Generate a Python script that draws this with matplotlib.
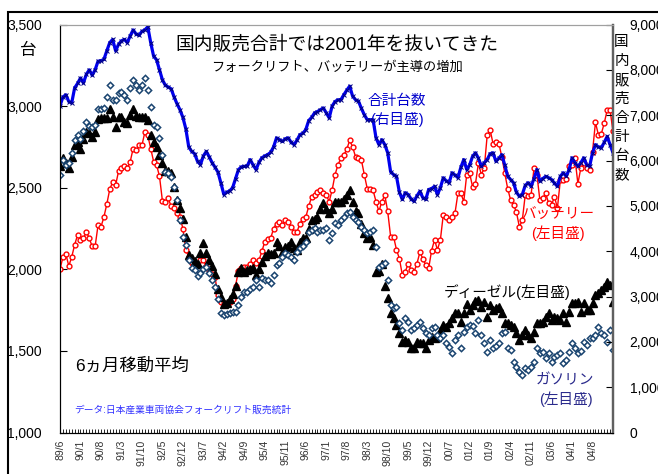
import matplotlib
matplotlib.use('Agg')
import matplotlib.pyplot as plt
from matplotlib.ticker import FuncFormatter
from matplotlib.patches import Rectangle

plt.rcParams['font.family'] = ['Liberation Sans', 'Noto Sans CJK JP']

# monthly data, 89/6 .. 05/3 (6-month moving average)
total = [7210, 7400, 7450, 7300, 7270, 7600, 7700, 7820, 7710, 7900,
         8000, 7880, 8000, 8190, 8200, 8230, 8420, 8600, 8670, 8420,
         8560, 8640, 8670, 8600, 8750, 8880, 8790, 8760, 8850, 8880,
         8950, 8600, 8300, 8220, 8000, 7780, 7660, 7620, 7580, 7400,
         7250, 7120, 6950, 6700, 6300, 6200, 6150, 5980, 5910, 6100,
         6200, 6080, 5950, 5850, 5740, 5500, 5250, 5300, 5330, 5400,
         5600, 5800, 5860, 5870, 5880, 6020, 5900, 5800, 5960, 6060,
         6100, 6130, 6180, 6300, 6500, 6460, 6420, 6480, 6500, 6400,
         6350, 6450, 6570, 6600, 6680, 6880, 6950, 7050, 7080, 7120,
         7160, 7050, 6940, 7200, 7300, 7340, 7340, 7450, 7550, 7640,
         7420, 7340, 7310, 7150, 7010, 6900, 6900, 6900, 6500, 6350,
         6460, 6350, 6170, 5750, 5690, 5650, 5300, 5140, 5290, 5250,
         5150, 5100, 5220, 5320, 5180, 5140, 5360, 5380, 5430, 5250,
         5400, 5620, 5550, 5510, 5730, 5680, 5620, 5850, 6020, 5800,
         5900, 6090, 6170, 6050, 5870, 5950, 6020, 6150, 6170, 5980,
         6050, 6130, 5900, 5650, 5580, 5510, 5300, 5210, 5250, 5450,
         5510, 5430, 5600, 5800, 5540, 5600, 5650, 5620, 5580, 5500,
         5430, 5650, 5730, 5650, 5800, 6060, 5950, 5870, 5950, 6060,
         5900, 5870, 6170, 6350, 6300, 6280, 6400, 6530, 6350, 6170]

battery = [2000, 2075, 2095, 2020, 2075, 2150, 2210, 2180, 2190, 2230,
           2190, 2140, 2140, 2270, 2260, 2320, 2400, 2490, 2535, 2515,
           2600, 2620, 2630, 2620, 2660, 2740, 2730, 2760, 2760, 2840,
           2820, 2740, 2660, 2640, 2570, 2420, 2415, 2435, 2385, 2375,
           2345, 2320, 2250, 2120, 2075, 2040, 2020, 1995, 2060, 2055,
           2020, 1995, 1970, 1950, 1840, 1800, 1795, 1790, 1800, 1815,
           1900, 1990, 2005, 2015, 2015, 2030, 2055, 2040, 2055, 2110,
           2170, 2185, 2190, 2250, 2280, 2290, 2270, 2300, 2290, 2260,
           2230, 2230, 2280, 2310, 2320, 2385, 2445, 2455, 2475, 2485,
           2470, 2455, 2415, 2485, 2580, 2640, 2680, 2700, 2735, 2790,
           2750, 2690, 2680, 2670, 2580, 2495, 2495, 2485, 2415, 2355,
           2415, 2455, 2355, 2200, 2200, 2120, 2065, 1965, 1985, 2035,
           1995, 1985, 2035, 2105, 2065, 2025, 2005, 2115, 2180, 2120,
           2180, 2335, 2320, 2300, 2320, 2345, 2465, 2465, 2415, 2580,
           2590, 2505, 2525, 2650, 2580, 2620, 2820, 2855, 2770, 2780,
           2770, 2690, 2590, 2495, 2425, 2395, 2350, 2260, 2300, 2455,
           2450, 2455, 2620, 2580, 2425, 2435, 2465, 2405, 2395, 2445,
           2375, 2545, 2545, 2555, 2630, 2640, 2680, 2525, 2620, 2650,
           2620, 2610, 2720, 2900, 2825, 2830, 2895, 2975, 2975, 2845]

diesel = [2630, 2680, 2650, 2620, 2690, 2760, 2780, 2740, 2800, 2840,
          2835, 2810, 2840, 2920, 2925, 2925, 2930, 2985, 2935, 2875,
          2935, 2935, 2900, 2895, 2945, 2985, 2940, 2935, 2935, 2935,
          2915, 2825, 2780, 2750, 2700, 2650, 2600, 2600, 2590, 2505,
          2425, 2375, 2310, 2200, 2090, 2070, 2050, 2030, 2100, 2160,
          2100, 2060, 2020, 1970, 1880, 1830, 1790, 1795, 1820, 1850,
          1900, 1985, 2005, 1985, 1995, 2000, 2005, 1965, 2000, 2045,
          2080, 2100, 2095, 2100, 2170, 2140, 2100, 2135, 2140, 2165,
          2130, 2120, 2165, 2190, 2190, 2250, 2300, 2310, 2320, 2370,
          2405, 2370, 2345, 2370, 2410, 2414, 2414, 2430, 2455, 2485,
          2414, 2355, 2345, 2280, 2220, 2190, 2200, 2150, 1985, 1990,
          2035, 1900, 1825, 1730, 1700, 1660, 1610, 1556, 1567, 1556,
          1516, 1520, 1556, 1547, 1547, 1516, 1567, 1587, 1577, 1585,
          1620, 1659, 1648, 1669, 1700, 1730, 1730, 1680, 1730, 1790,
          1751, 1780, 1805, 1812, 1771, 1801, 1710, 1781, 1751, 1765,
          1771, 1730, 1670, 1669, 1660, 1648, 1608, 1567, 1597, 1628,
          1600, 1577, 1618, 1669, 1669, 1679, 1705, 1730, 1689, 1710,
          1700, 1689, 1730, 1679, 1740, 1792, 1792, 1800, 1740, 1792,
          1751, 1751, 1792, 1843, 1853, 1873, 1893, 1924, 1904, 1801]

gasoline = [2580, 2670, 2640, 2650, 2710, 2790, 2820, 2800, 2850, 2900,
            2880, 2875, 2885, 2985, 2980, 2990, 3055, 3130, 3040, 3040,
            3078, 3088, 3068, 3040, 3110, 3160, 3130, 3098, 3130, 3170,
            3100, 2996, 2884, 2874, 2802, 2700, 2598, 2588, 2567, 2506,
            2424, 2300, 2200, 2150, 2057, 2006, 1996, 1960, 1975, 2000,
            2016, 1975, 1934, 1893, 1820, 1730, 1720, 1725, 1730, 1740,
            1740, 1781, 1832, 1863, 1863, 1880, 1893, 1934, 1893, 1944,
            1935, 1934, 1914, 1965, 2026, 2037, 2077, 2098, 2090, 2077,
            2057, 2108, 2128, 2140, 2169, 2230, 2241, 2251, 2230, 2241,
            2240, 2251, 2180, 2220, 2282, 2271, 2300, 2322, 2343, 2353,
            2322, 2302, 2292, 2260, 2241, 2220, 2230, 2241, 2138, 2016,
            2026, 2037, 1934, 1781, 1761, 1771, 1669, 1628, 1700, 1679,
            1628, 1640, 1659, 1679, 1638, 1608, 1597, 1638, 1648, 1600,
            1577, 1597, 1547, 1526, 1485, 1567, 1597, 1516, 1618, 1648,
            1659, 1650, 1608, 1689, 1597, 1547, 1495, 1567, 1516, 1530,
            1547, 1608, 1618, 1516, 1505, 1434, 1400, 1373, 1352, 1393,
            1383, 1400, 1434, 1516, 1485, 1495, 1454, 1485, 1434, 1460,
            1475, 1485, 1424, 1444, 1495, 1547, 1516, 1485, 1500, 1556,
            1536, 1577, 1577, 1600, 1648, 1608, 1597, 1556, 1628, 1505]

month_labels = ['89/6', '90/1', '90/8', '91/3', '91/10', '92/5', '92/12',
                '93/7', '94/2', '94/9', '95/4', '95/11', '96/6', '97/1',
                '97/8', '98/3', '98/10', '99/5', '99/12', '00/7', '01/2',
                '01/9', '02/4', '02/11', '03/6', '04/1', '04/8']

x = list(range(len(total)))

fig = plt.figure(figsize=(6.58, 4.74), dpi=100)
ax = fig.add_axes([60/658, 1 - 432.5/474, 553/658, 408/474])
ax2 = ax.twinx()

# left-axis series
ax.plot(x, battery, '-o', color='#FF0000', lw=1.0, ms=3.5,
        mfc='white', mec='#FF0000', mew=1.0, zorder=3)
ax.plot(x, diesel, '^', color='black', ms=5.2, mec='black', ls='none', zorder=4)
ax.plot(x, gasoline, 'D', ms=3.2, mfc='white', mec='#1A4470', mew=1.1,
        ls='none', zorder=5)

# right-axis total
ax2.plot(x, total, '-', color='#0000EE', lw=2.3, marker='x', ms=2.2,
         mec='#000080', mew=0.7)

ax.set_xlim(0, len(total) - 1)
ax.set_ylim(1000, 3500)
ax2.set_ylim(0, 9000)
ax.set_yticks(range(1000, 3501, 500))
ax2.set_yticks(range(0, 9001, 1000))
fmt = FuncFormatter(lambda v, p: f'{int(v):,}')
ax.yaxis.set_major_formatter(fmt)
ax2.yaxis.set_major_formatter(fmt)

ax.set_xticks(range(0, 7 * len(month_labels), 7))
ax.set_xticklabels(month_labels, rotation=90, fontsize=7.5, color='#333333')
ax.set_xticks(x, minor=True)
ax.tick_params(axis='x', which='both', direction='in', length=3, width=0.6, pad=5)
ax.tick_params(axis='y', direction='in', length=5, labelsize=10, pad=13)
ax2.tick_params(axis='y', direction='in', length=5, labelsize=10, pad=12)

for a in (ax, ax2):
    a.spines['top'].set_color('#A0A0A0')
    a.spines['right'].set_color('#606060')
    a.spines['right'].set_linewidth(1.6)
    a.spines['left'].set_color('black')
    a.spines['bottom'].set_color('black')

jp = ['Noto Sans CJK JP']
ax.text(0.5, 0.95, '国内販売合計では2001年を抜いてきた', transform=ax.transAxes,
        ha='center', va='center', fontsize=13.5)
ax.text(0.5, 0.894, 'フォークリフト、バッテリーが主導の増加', transform=ax.transAxes,
        ha='center', va='center', fontsize=9.5, family=jp)
ax.text(0.609, 0.79, '合計台数\n(右目盛)', transform=ax.transAxes, ha='center',
        va='center', fontsize=10.5, color='#0000CC', linespacing=1.3)
ax.text(0.9, 0.51, 'バッテリー\n(左目盛)', transform=ax.transAxes, ha='center',
        va='center', fontsize=10.5, color='#FF0000', linespacing=1.3)
ax.text(0.808, 0.345, 'ディーゼル(左目盛)', transform=ax.transAxes, ha='center',
        va='center', fontsize=10.5, color='black')
ax.text(0.914, 0.103, 'ガソリン\n(左目盛)', transform=ax.transAxes, ha='center',
        va='center', fontsize=10.5, color='#2B2B8C', linespacing=1.3)
ax.text(0.027, 0.165, '6ヵ月移動平均', transform=ax.transAxes, ha='left',
        va='center', fontsize=12.5)
ax.text(0.025, 0.055, 'データ:日本産業車両協会フォークリフト販売統計',
        transform=ax.transAxes, ha='left', va='center', fontsize=7, color='#3333FF')

# unit labels
fig.text(28.5/658, 1 - 50/474, '台', ha='center', va='center', fontsize=12, family=jp)
for i, ch in enumerate('国内販売合計台数'):
    fig.text(621.5/658, 1 - (42 + i * 19)/474, ch, ha='center', va='center',
             fontsize=10.5, family=jp)

# outer frame
fig.add_artist(Rectangle((8/658, -0.05), 1.0, 1 - 12/474 + 0.05,
                         transform=fig.transFigure, fill=False, lw=1.5, ec='black'))

plt.savefig('out.png', dpi=100)
